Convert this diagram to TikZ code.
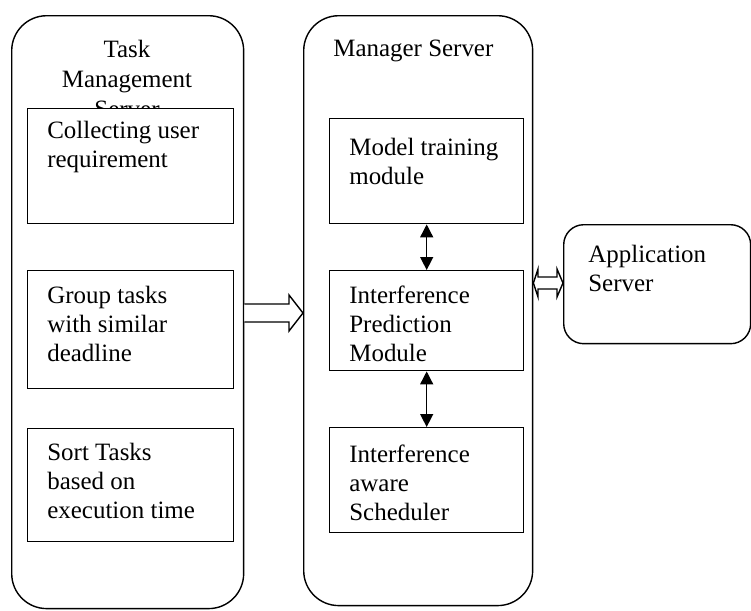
\documentclass[tikz,border=0pt]{standalone}
\usepackage{fontspec}
\setmainfont{Liberation Serif}
\newfontfamily\modfont{Liberation Serif}
\usetikzlibrary{arrows.meta,calc}
\tikzset{
  server/.style={draw,line width=0.8pt,rounded corners=0.7cm,anchor=north west,inner sep=0},
  module/.style={draw,fill=white,line width=0.8pt,anchor=north west,inner sep=0},
  modtext/.style={anchor=north west,align=left,inner sep=0,font=\modfont\fontsize{14.2}{16.5}\selectfont},
  hollow/.style={draw,line width=0.8pt,fill=white},
  link/.style={line width=0.8pt,{Triangle[length=0.26cm,width=0.26cm]}-{Triangle[length=0.26cm,width=0.26cm]}}
}

\begin{document}
\begin{tikzpicture}[x=0.02cm,y=-0.02cm]
\useasboundingbox (0,0) rectangle (751,610);

% servers
\node[server,minimum width=4.64cm,minimum height=11.86cm] (tms) at (11,15) {};
\node[server,minimum width=4.58cm,minimum height=11.8cm] (mgr) at (303,15) {};
\node[server,rounded corners=0.4cm,minimum width=3.74cm,minimum height=2.38cm] (app) at (563,224) {};

\node[modtext,anchor=north,align=center,font=\modfont\fontsize{14.2}{17}\selectfont] (tmstitle) at (127,40) {Task\\Management\\Server};
\node[modtext] (mgrtitle) at (333,40) {Manager Server};
\node[modtext] (apptitle) at ($(app.north west)+(25,21)$) {Application\\Server};

% task management modules
\node[module,minimum width=4.12cm,minimum height=2.3cm] (collect) at (27,108) {};
\node[modtext] (collecttext) at ($(collect.north west)+(20,13)$) {Collecting user\\requirement};
\node[module,minimum width=4.12cm,minimum height=2.36cm] (group) at (27,270) {};
\node[modtext] (grouptext) at ($(group.north west)+(20,16)$) {Group tasks\\with similar\\deadline};
\node[module,minimum width=4.12cm,minimum height=2.26cm] (sort) at (27,428) {};
\node[modtext] (sorttext) at ($(sort.north west)+(20,15)$) {Sort Tasks\\based on\\execution time};

% manager modules
\node[module,minimum width=3.88cm,minimum height=2.1cm] (train) at (329,118) {};
\node[modtext] (traintext) at ($(train.north west)+(20,20)$) {Model training\\module};
\node[module,minimum width=3.88cm,minimum height=2.0cm] (predict) at (329,270) {};
\node[modtext] (predicttext) at ($(predict.north west)+(20,16)$) {Interference\\Prediction\\Module};
\node[module,minimum width=3.88cm,minimum height=2.1cm] (sched) at (329,427) {};
\node[modtext] (schedtext) at ($(sched.north west)+(20,18)$) {Interference\\aware\\Scheduler};

\draw[link] (train) -- (predict);
\draw[link] (predict) -- (sched);

% hollow arrows
\draw[hollow] (tms.east|-0,304) -- (289,304) -- (289,295) -- (mgr.west|-0,313)
  -- (289,331) -- (289,322) -- (tms.east|-0,322);
\draw[hollow] (mgr.east|-0,283) -- (538,269) -- (538,277) -- (557,277) -- (557,269)
  -- (app.west|-0,283) -- (557,297) -- (557,289) -- (538,289) -- (538,297) -- cycle;
\end{tikzpicture}
\end{document}
